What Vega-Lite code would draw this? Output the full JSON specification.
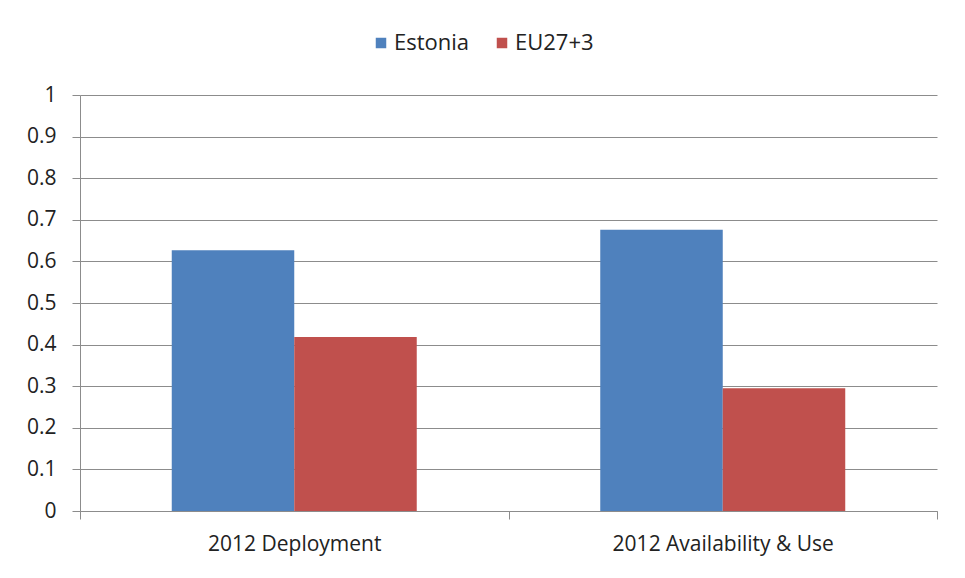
{
  "$schema": "https://vega.github.io/schema/vega-lite/v6.json",
  "width": 857,
  "height": 416,
  "autosize": {"type": "none"},
  "padding": {"left": 80, "top": 95, "right": 28, "bottom": 67},
  "background": "white",
  "data": {
    "values": [
      {"category": "2012 Deployment", "series": "Estonia", "value": 0.627},
      {"category": "2012 Deployment", "series": "EU27+3", "value": 0.418},
      {"category": "2012 Availability & Use", "series": "Estonia", "value": 0.676},
      {"category": "2012 Availability & Use", "series": "EU27+3", "value": 0.295}
    ]
  },
  "mark": {"type": "bar", "strokeWidth": 1},
  "encoding": {
    "x": {
      "field": "category",
      "type": "nominal",
      "sort": ["2012 Deployment", "2012 Availability & Use"],
      "scale": {"paddingInner": 0, "paddingOuter": 0},
      "axis": {
        "title": null,
        "labelAngle": 0,
        "labelLimit": 0,
        "tickBand": "extent",
        "grid": false,
        "domainColor": "#8c8c8c",
        "tickColor": "#8c8c8c",
        "tickSize": 8,
        "labelPadding": 14,
        "labelFont": "Open Sans",
        "labelFontSize": 21,
        "labelColor": "#222222"
      }
    },
    "xOffset": {
      "field": "series",
      "type": "nominal",
      "sort": ["Estonia", "EU27+3"],
      "scale": {"paddingInner": 0, "paddingOuter": 0.749}
    },
    "y": {
      "field": "value",
      "type": "quantitative",
      "scale": {"domain": [0, 1], "nice": false},
      "axis": {
        "title": null,
        "values": [0, 0.1, 0.2, 0.3, 0.4, 0.5, 0.6, 0.7, 0.8, 0.9, 1],
        "format": "~g",
        "grid": true,
        "gridColor": "#8c8c8c",
        "gridWidth": 1,
        "domainColor": "#8c8c8c",
        "tickColor": "#8c8c8c",
        "tickSize": 8,
        "labelPadding": 16,
        "labelFont": "Open Sans",
        "labelFontSize": 21,
        "labelColor": "#222222"
      }
    },
    "color": {
      "field": "series",
      "type": "nominal",
      "sort": ["Estonia", "EU27+3"],
      "scale": {"domain": ["Estonia", "EU27+3"], "range": ["#4F81BD", "#C0504D"]},
      "legend": {
        "title": null,
        "orient": "none",
        "direction": "horizontal",
        "legendX": 290,
        "legendY": -63,
        "symbolType": "square",
        "symbolSize": 110,
        "symbolStrokeWidth": 0,
        "labelFont": "Open Sans",
        "labelFontSize": 22,
        "labelColor": "#222222",
        "columnPadding": 21,
        "labelOffset": 2
      }
    }
  },
  "config": {
    "view": {"stroke": null},
    "axis": {"domainWidth": 1, "tickWidth": 1}
  }
}
